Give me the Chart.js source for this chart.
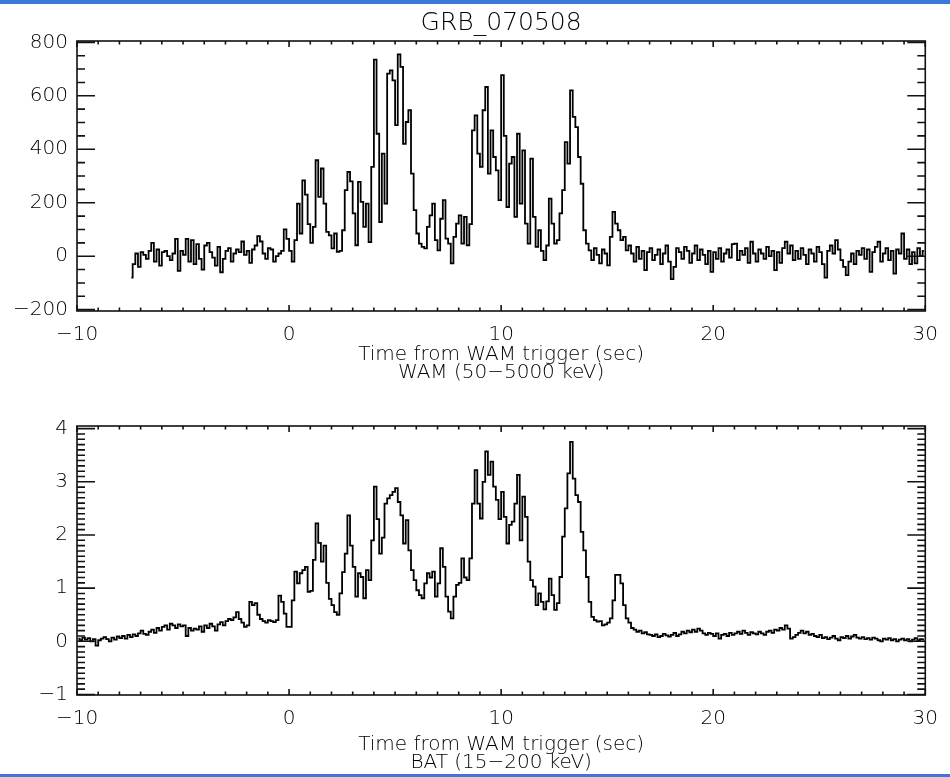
<!DOCTYPE html>
<html>
<head>
<meta charset="utf-8">
<title>GRB_070508</title>
<script src="https://cdn.jsdelivr.net/npm/chart.js@4.4.1/dist/chart.umd.min.js"></script>
<style>
  html, body { margin: 0; padding: 0; background: #fff; }
  #page { position: relative; width: 950px; height: 777px; overflow: hidden; background: #fff; }
  canvas { position: absolute; left: 0; }
  #wamChart { top: 0; }
  #batChart { top: 392px; }
  .bar { position: absolute; left: 0; width: 950px; background: #3b78d8; z-index: 2; }
  #barTop { top: 0; height: 4px; }
  #barBottom { top: 774px; height: 3px; }
</style>
</head>
<body>
<div id="page">
  <canvas id="wamChart" width="950" height="392"></canvas>
  <canvas id="batChart" width="950" height="385"></canvas>
  <div class="bar" id="barTop"></div>
  <div class="bar" id="barBottom"></div>
</div>
<script>
// light curves, 0.125 s bins
const binWidth = 0.125;

const timeTicks = [-10, 0, 10, 20, 30];
const wamTicks = [-200, 0, 200, 400, 600, 800];
const batTicks = [-1, 0, 1, 2, 3, 4];

// WAM (50-5000 keV), counts
const wamPreStart = -7.5;
const wamPre = [
  -80, -30, 10, -40, 15, 5, -10, 20, 50, -20,
  25, -35, 15, 20, 0, -15, 10, 65, -55, 20,
  5, 65, -20, 60, -30, 45, -10, -50, 40, 50,
  15, -5, -35, 35, -60, -10, 20, 30, -20, 10,
  25, 15, 55, 5, 20, -25, 25, 40, 75, 55,
  10, -10, 30, 25, -20, 0, 10, 20, 100, 65
];
const wamBurstStart = 0;
const wamBurst = [
  20, -20, 60, 197, 85, 284, 230, 120, 50, 110,
  359, 222, 328, 197, 91, 78, 29, 85, 16, 20,
  97, 247, 315, 280, 160, 41, 278, 203, 110, 197,
  53, 334, 735, 458, 128, 384, 197, 683, 695, 658,
  490, 755, 708, 420, 502, 546, 309, 172, 85, 47,
  35, 29, 110, 153, 197, 60, 22, 140, 210, 66,
  47, -27, 72, 122, 153, 47, 147, 41, 120, 471,
  527, 384, 334, 546, 633, 309, 471, 371, 321, 210,
  677, 450, 184, 346, 371, 147, 458, 197, 396, 122,
  47, 365, 147, 35, 97, 20, -15, 40, 215, 122,
  47, 60, 160, 247, 427, 346, 620, 521, 483, 371,
  271, 97, 47, 22, -15, 30, 5, -27, 25, 10,
  -34, 72, 166, 122, 97, 60, 72, 22
];
const wamTailStart = 16;
const wamTail = [
  40, 10, -20, 35, -10, 20, -52, 15,
  30, -15, 5, 25, -30, 10, 40, -20,
  -86, -40, 30, 15, -10, 35, 20, -25,
  10, 40, -15, 25, 5, -30, 20, -59,
  15, -10, 30, -20, 10, 25, -5, 45,
  47, -15, 20, 5, 30, -25, 54, 10,
  -20, 25, 10, -10, 35, 0, 20, -52,
  15, -25, 30, 54, 10, 40, -15, 20,
  -10, 30, 5, -30, 25, 10, -20, 35,
  15, -30, -80, 20, 40, 10, 60, 25,
  -15, -40, -71, -20, 10, -30, 20, 5,
  30, -10, 25, -59, 15, 35, 54, -20,
  10, 30, -15, 20, -65, 25, 10, 85,
  -10, 25, -30, 15, -27, 30, 0, 20
];

// BAT (15-200 keV), counts/s/det
const batPreStart = -10;
const batPre = [
  0.05, 0.02, 0.07, 0.03, 0.06, 0.0, 0.04, -0.08,
  0.02, 0.05, 0.08, 0.04, 0.0, 0.07, 0.03, 0.09,
  0.06, 0.1, 0.05, 0.12, 0.08, 0.13, 0.1, 0.15,
  0.2, 0.14, 0.12, 0.18, 0.22, 0.16, 0.25, 0.2,
  0.27, 0.3, 0.22, 0.33, 0.3, 0.25, 0.32, 0.28,
  0.3, 0.1, 0.25, 0.2, 0.24, 0.22, 0.28, 0.18,
  0.3, 0.25, 0.33, 0.28, 0.2, 0.32, 0.36, 0.3,
  0.38, 0.42, 0.4, 0.45, 0.55, 0.42, 0.35, 0.27,
  0.3, 0.74, 0.68, 0.72, 0.5, 0.42, 0.38, 0.35,
  0.4, 0.38, 0.36, 0.4, 0.86, 0.74, 0.52, 0.27
];
const batBurstStart = 0;
const batBurst = [
  0.27, 0.77, 1.31, 1.09, 1.28, 1.34, 1.4, 0.93, 0.95, 1.53,
  2.22, 1.85, 1.5, 1.8, 1.1, 0.8, 0.68, 0.55, 0.5, 0.9,
  1.3, 1.65, 2.37, 1.8, 1.4, 0.84, 1.28, 1.21, 0.81, 1.34,
  1.15, 1.9, 2.91, 2.3, 1.65, 1.95, 2.59, 2.69, 2.75, 2.81,
  2.88, 2.62, 2.37, 1.84, 2.28, 1.71, 1.34, 1.15, 0.96, 0.87,
  0.81, 1.09, 1.28, 1.2, 1.31, 0.84, 1.09, 1.75, 1.4, 0.84,
  0.56, 0.43, 0.84, 1.06, 1.1, 1.56, 1.2, 1.15, 1.56, 2.59,
  3.22, 2.59, 2.31, 3.0, 3.57, 3.13, 3.38, 2.91, 2.66, 2.3,
  2.81, 2.34, 1.84, 2.19, 2.25, 2.59, 3.13, 1.9, 2.72, 2.34,
  1.5, 1.15, 1.03, 0.68, 0.9, 0.74, 0.6, 0.75, 1.18, 0.87,
  0.59, 0.72, 1.21, 1.97, 2.5, 3.16, 3.75, 3.06, 2.75, 2.62,
  2.06, 1.71, 1.21, 0.74, 0.46, 0.4, 0.37, 0.38, 0.3, 0.32,
  0.35, 0.43, 0.77, 1.25, 1.25, 1.09, 0.68, 0.43
];
const batTailStart = 16;
const batTail = [
  0.35, 0.25, 0.22, 0.18, 0.2, 0.15, 0.17, 0.13,
  0.12, 0.1, 0.13, 0.08, 0.1, 0.14, 0.11, 0.09,
  0.12, 0.16, 0.1, 0.13, 0.18, 0.15, 0.2, 0.17,
  0.22, 0.18, 0.24, 0.2, 0.15, 0.12, 0.16, 0.14,
  0.1, 0.15, 0.05, 0.12, 0.14, 0.1, 0.16, 0.12,
  0.15, 0.18, 0.14, 0.2, 0.16, 0.12, 0.17, 0.15,
  0.13, 0.18, 0.15, 0.12, 0.18, 0.2, 0.16, 0.22,
  0.2, 0.25, 0.22, 0.3, 0.24, 0.05, 0.08, 0.12,
  0.16, 0.2, 0.15, 0.18, 0.12, 0.14, 0.1, 0.08,
  0.12, 0.06, 0.08, 0.04, 0.07, 0.1, 0.05, 0.02,
  0.08, 0.06, 0.1, 0.05, 0.09, 0.12, 0.07, 0.05,
  0.08, 0.04, 0.06, 0.03, 0.07, 0.05, 0.02, 0.0,
  0.05, 0.03, 0.06, 0.02, 0.04, 0.0, 0.03, 0.05,
  0.02, 0.04, 0.0, 0.03, 0.06, 0.02, 0.04, 0.03
];

const ink = '#000';
Chart.defaults.font.family = "'DejaVu Sans', 'Liberation Sans', sans-serif";
Chart.defaults.font.weight = '300';

function binPoints(start, values) {
  return values.map((v, i) => ({ x: start + (i + 0.5) * binWidth, y: v }));
}

function minusSign(value) {
  return String(value).replace('-', '\u2212');
}

// IDL style box with inward ticks on all four sides
const frameTicks = {
  id: 'frameTicks',
  afterDraw(chart, args, opts) {
    const { ctx, chartArea: a, scales: { x, y } } = chart;
    ctx.save();
    ctx.strokeStyle = '#111';
    ctx.lineWidth = 1.6;
    ctx.strokeRect(a.left, a.top, a.right - a.left, a.bottom - a.top);
    ctx.beginPath();
    for (let i = Math.ceil(x.min); i <= Math.floor(x.max); i++) {
      const px = x.getPixelForValue(i);
      const len = i % 10 === 0 ? 6 : 3.5;
      ctx.moveTo(px, a.bottom); ctx.lineTo(px, a.bottom - len);
      ctx.moveTo(px, a.top); ctx.lineTo(px, a.top + len);
    }
    const lo = Math.ceil(y.min / opts.yStep - 1e-6);
    const hi = Math.floor(y.max / opts.yStep + 1e-6);
    for (let i = lo; i <= hi; i++) {
      const py = y.getPixelForValue(i * opts.yStep);
      const len = i % opts.yEvery === 0 ? 18 : 8;
      ctx.moveTo(a.left, py); ctx.lineTo(a.left + len, py);
      ctx.moveTo(a.right, py); ctx.lineTo(a.right - len, py);
    }
    ctx.stroke();
    ctx.restore();
  }
};

function makePanel(canvasId, cfg) {
  return new Chart(document.getElementById(canvasId), {
    type: 'line',
    data: {
      datasets: [{
        data: cfg.points,
        borderColor: '#000',
        borderWidth: 1.8,
        stepped: 'middle',
        pointRadius: 0,
        fill: false
      }]
    },
    options: {
      responsive: false,
      animation: false,
      events: [],
      layout: { padding: { left: 0, right: 14, top: cfg.padTop, bottom: 0 } },
      plugins: {
        legend: { display: false },
        tooltip: { enabled: false },
        title: cfg.title ? {
          display: true,
          text: cfg.title,
          fullSize: false,
          color: ink,
          font: { size: 25, weight: '300', lineHeight: 1 },
          padding: { top: 10.5, bottom: 5.5 }
        } : { display: false },
        frameTicks: { yStep: cfg.yStep, yEvery: cfg.yEvery }
      },
      scales: {
        x: {
          type: 'linear',
          min: -10,
          max: 30,
          afterBuildTicks: s => { s.ticks = timeTicks.map(v => ({ value: v })); },
          afterFit: s => { s.height = cfg.xHeight; },
          grid: { display: false, drawTicks: false },
          border: { display: false },
          ticks: { padding: 12, maxRotation: 0, autoSkip: false, color: ink, font: { size: 20 }, callback: minusSign },
          title: {
            display: true,
            text: ['Time from WAM trigger (sec)', cfg.band],
            color: ink,
            font: { size: 20, lineHeight: 0.9 },
            padding: { top: 0, bottom: cfg.titlePad }
          }
        },
        y: {
          type: 'linear',
          min: cfg.yRange[0],
          max: cfg.yRange[1],
          afterBuildTicks: s => { s.ticks = cfg.yTicks.map(v => ({ value: v })); },
          afterFit: s => { s.width = 77; },
          grid: { display: false, drawTicks: false },
          border: { display: false },
          ticks: { padding: 9, autoSkip: false, color: ink, font: { size: 20 }, callback: minusSign }
        }
      }
    },
    plugins: [frameTicks]
  });
}

makePanel('wamChart', {
  points: [
    ...binPoints(wamPreStart, wamPre),
    ...binPoints(wamBurstStart, wamBurst),
    ...binPoints(wamTailStart, wamTail)
  ],
  title: 'GRB_070508',
  band: 'WAM (50\u22125000 keV)',
  yRange: [-205, 805],
  yTicks: wamTicks,
  yStep: 50,
  yEvery: 4,
  padTop: 0,
  xHeight: 81,
  titlePad: 10
});

makePanel('batChart', {
  points: [
    ...binPoints(batPreStart, batPre),
    ...binPoints(batBurstStart, batBurst),
    ...binPoints(batTailStart, batTail)
  ],
  title: null,
  band: 'BAT (15\u2212200 keV)',
  yRange: [-1.01, 4.05],
  yTicks: batTicks,
  yStep: 0.1,
  yEvery: 10,
  padTop: 34,
  xHeight: 82,
  titlePad: 5
});
</script>
</body>
</html>
